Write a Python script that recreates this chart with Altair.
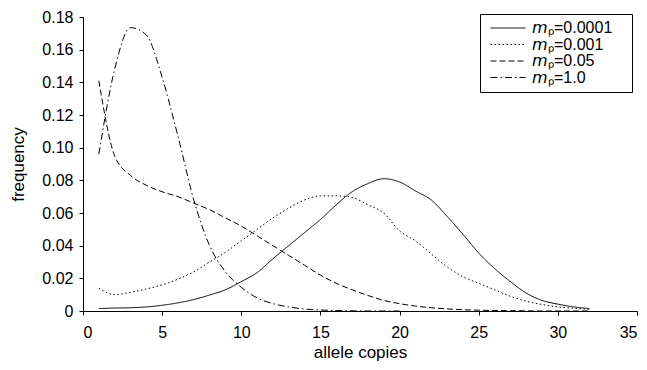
import altair as alt
import pandas as pd

x_all = list(range(1, 33))
solid_0001 = [0.0015, 0.0018, 0.002, 0.0025, 0.0035, 0.005, 0.007, 0.0098, 0.013, 0.018,
              0.0235, 0.032, 0.040, 0.048, 0.056, 0.065, 0.073, 0.078, 0.081, 0.079,
              0.0735, 0.068, 0.058, 0.047, 0.0355, 0.026, 0.018, 0.011, 0.0065, 0.0042,
              0.0025, 0.0015]
dotted_001 = [0.014, 0.010, 0.0115, 0.0135, 0.016, 0.0195, 0.024, 0.030, 0.036, 0.043,
              0.050, 0.057, 0.063, 0.068, 0.0705, 0.0705, 0.0695, 0.065, 0.060, 0.049,
              0.043, 0.035, 0.027, 0.021, 0.017, 0.013, 0.009, 0.006, 0.004, 0.0025,
              0.0017, 0.001]
dashed_05 = [0.141, 0.095, 0.083, 0.077, 0.073, 0.070, 0.066, 0.062, 0.057, 0.052,
             0.046, 0.040, 0.034, 0.028, 0.022, 0.017, 0.013, 0.0095, 0.0065, 0.0045,
             0.003, 0.002, 0.0013, 0.0008, 0.0005, 0.0003, 0.0002, 0.0001, 0.0, 0.0,
             0.0, 0.0]
x_dd = list(range(1, 21))
dashdot_1 = [0.096, 0.148, 0.1735, 0.169, 0.143, 0.107, 0.068, 0.040, 0.024, 0.0145,
             0.008, 0.0045, 0.0025, 0.0012, 0.0006, 0.0003, 0.0001, 0.0, 0.0, 0.0]

labels = ["𝘮ₚ=0.0001", "𝘮ₚ=0.001", "𝘮ₚ=0.05", "𝘮ₚ=1.0"]

rows = []
for xs, ys, lab in [(x_all, solid_0001, labels[0]), (x_all, dotted_001, labels[1]),
                    (x_all, dashed_05, labels[2]), (x_dd, dashdot_1, labels[3])]:
    for xv, yv in zip(xs, ys):
        rows.append({"x": xv, "y": yv, "series": lab})
df = pd.DataFrame(rows)

font = "Liberation Sans"
pad_spaces = "\u00a0" * 3 + "\u200b"

chart = alt.Chart(df).mark_line(interpolate="monotone", strokeWidth=1, color="black").encode(
    x=alt.X("x:Q", scale=alt.Scale(domain=[0, 35], nice=False),
            axis=alt.Axis(values=list(range(0, 36, 5)), title="allele copies")),
    y=alt.Y("y:Q", scale=alt.Scale(domain=[0, 0.18], nice=False),
            axis=alt.Axis(values=[0, 0.02, 0.04, 0.06, 0.08, 0.10, 0.12, 0.14, 0.16, 0.18],
                          labelExpr="datum.value == 0 ? '0' : format(datum.value, '.2f')",
                          title="frequency")),
    strokeDash=alt.StrokeDash("series:N", sort=labels,
                              scale=alt.Scale(domain=labels,
                                              range=[[1, 0], [1.5, 2.5], [6, 3], [7, 3, 1.5, 3]]),
                              legend=alt.Legend(title=None, orient="none", legendX=397, legendY=-3,
                                                symbolType="M-1,0H9", symbolSize=49,
                                                symbolStrokeColor="black", symbolStrokeWidth=1,
                                                symbolFillColor="transparent",
                                                labelFont=font, labelFontSize=16,
                                                labelColor="black",
                                                labelExpr="datum.label + '" + pad_spaces + "'",
                                                fillColor="white", strokeColor="black",
                                                padding=6, rowPadding=0.5,
                                                labelOffset=30)),
    detail="series:N",
).properties(
    width=554, height=294,
    autosize="none",
    padding={"left": 75, "top": 9, "right": 2, "bottom": 51},
).configure_view(stroke=None).configure_axis(
    domainColor="black", tickColor="black", labelColor="black", titleColor="black",
    labelFont=font, titleFont=font, labelFontSize=16, titleFontSize=17,
    titleFontWeight="normal", grid=False, tickSize=4, domainWidth=1, tickWidth=1,
).configure_axisX(titlePadding=4, labelPadding=9).configure_axisY(titlePadding=14, labelPadding=6)

chart.save("out.html", embed_options={"renderer": "svg", "actions": False})
